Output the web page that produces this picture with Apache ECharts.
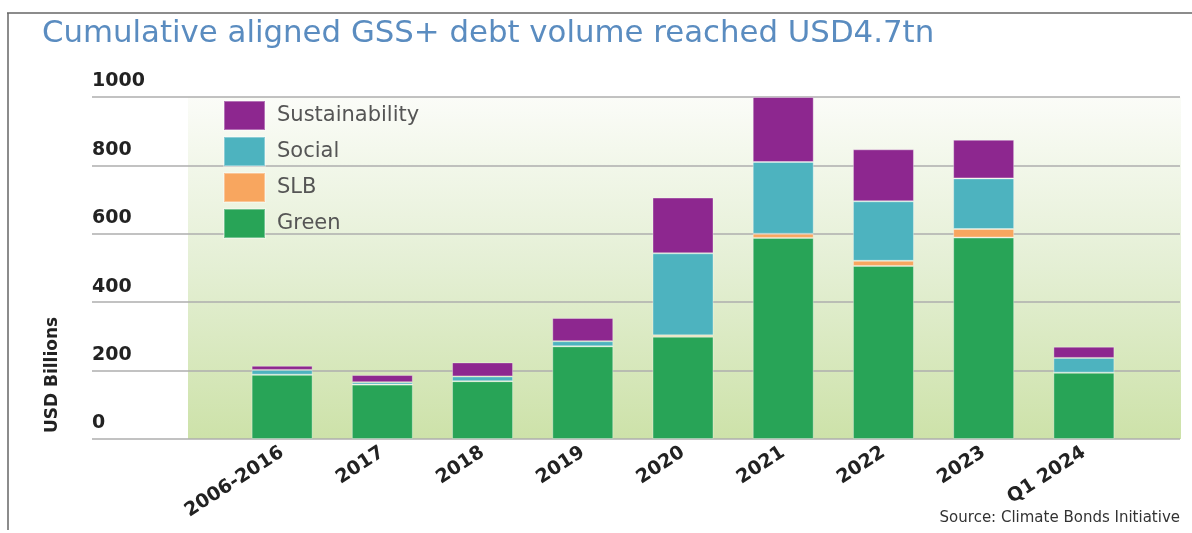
<!DOCTYPE html>
<html>
<head>
<meta charset="utf-8">
<script src="https://cdn.jsdelivr.net/npm/echarts@6/dist/echarts.min.js"></script>
<style>
html,body{margin:0;padding:0;background:#fff;}
#chart{width:1192px;height:533px;}
</style>
</head>
<body>
<div id="chart"></div>
<script>
const categories = ['2006-2016','2017','2018','2019','2020','2021','2022','2023','Q1 2024'];
const green  = [188, 159, 169, 271, 299, 588, 506, 589, 194];
const slb    = [0,   0,   0,   0,   4,   12,  15,  25,  0];
const social = [14,  7,   14,  15,  240, 210, 174, 148, 43];
const sustainability = [12, 21, 41, 68, 163, 190, 152, 113, 33];
const yTicks = [0, 200, 400, 600, 800, 1000];

const FONT = 'DejaVu Sans';
const colors = {Green:'#28a457', SLB:'#f8a65f', Social:'#4db3bf', Sustainability:'#8d278f'};

const chart = echarts.init(document.getElementById('chart'), null, {renderer:'canvas'});

function barSeries(name, data){
  return {
    name, type:'bar', stack:'total', data, barWidth:61,
    xAxisIndex:0, yAxisIndex:0,
    itemStyle:{color:colors[name], borderColor:'rgba(255,255,255,0.35)', borderWidth:1},
    emphasis:{disabled:true}
  };
}

const option = {
  animation:false,
  backgroundColor:'#ffffff',
  title:{
    text:'Cumulative aligned GSS+ debt volume reached USD4.7tn',
    left:37, top:13, padding:[5,5,5,5],
    textStyle:{fontFamily:FONT, fontSize:30.8, fontWeight:'normal', color:'#5a8cc0'}
  },
  legend:{
    orient:'vertical', left:223, top:100, padding:0,
    itemWidth:41, itemHeight:29, itemGap:5,
    icon:'rect',
    data:['Sustainability','Social','SLB','Green'],
    textStyle:{fontFamily:FONT, fontSize:21, color:'#555', padding:[0,0,0,7]}
  },
  grid:[
    {left:232, right:58, top:97, bottom:94, z:3},
    {left:92, right:12, top:97, bottom:94, z:1},
    {left:188, right:11, top:97, bottom:94, show:true, borderWidth:0, z:0,
     backgroundColor:new echarts.graphic.LinearGradient(0,0,0,1,[
       {offset:0, color:'#fbfcf8'},
       {offset:0.5, color:'#e4efd4'},
       {offset:1, color:'#cde2a9'}
     ])}
  ],
  xAxis:[
    {type:'category', gridIndex:0, data:categories,
     axisLine:{show:false}, axisTick:{show:false},
     axisLabel:{rotate:33, margin:12, fontFamily:FONT, fontSize:19, fontWeight:'bold', color:'#222', interval:0}},
    {type:'category', gridIndex:1, data:categories, show:false},
    {type:'category', gridIndex:2, data:categories, show:false}
  ],
  yAxis:[
    {type:'value', gridIndex:0, min:0, max:1000, interval:200, show:false, splitLine:{show:false}},
    {type:'value', gridIndex:1, min:0, max:1000, interval:200,
     axisLine:{show:false}, axisTick:{show:false},
     axisLabel:{margin:0, align:'left', verticalAlign:'bottom', padding:[0,0,6,0],
       fontFamily:FONT, fontSize:19, fontWeight:'bold', color:'#222',
       formatter:function(v){ return yTicks.indexOf(v) >= 0 ? String(v) : ''; }},
     splitLine:{show:true, lineStyle:{color:'#aeaeae', width:1.6}}},
    {type:'value', gridIndex:2, min:0, max:1000, show:false, splitLine:{show:false}}
  ],
  series:[
    barSeries('Green', green),
    barSeries('SLB', slb),
    barSeries('Social', social),
    barSeries('Sustainability', sustainability)
  ],
  graphic:[
    {type:'line', shape:{x1:7, y1:13, x2:1192, y2:13}, style:{stroke:'#666', lineWidth:1.5}, silent:true},
    {type:'line', shape:{x1:8, y1:13, x2:8, y2:530}, style:{stroke:'#666', lineWidth:1.5}, silent:true},
    {type:'text', x:53, y:375, rotation:Math.PI/2,
     style:{text:'USD Billions', fontFamily:FONT, fontSize:17, fontWeight:'bold', fill:'#222',
       align:'center', verticalAlign:'middle'}, silent:true},
    {type:'text', right:12, top:511,
     style:{text:'Source: Climate Bonds Initiative', fontFamily:FONT, fontSize:15, fill:'#333'}, silent:true}
  ]
};
chart.setOption(option);
</script>
</body>
</html>
